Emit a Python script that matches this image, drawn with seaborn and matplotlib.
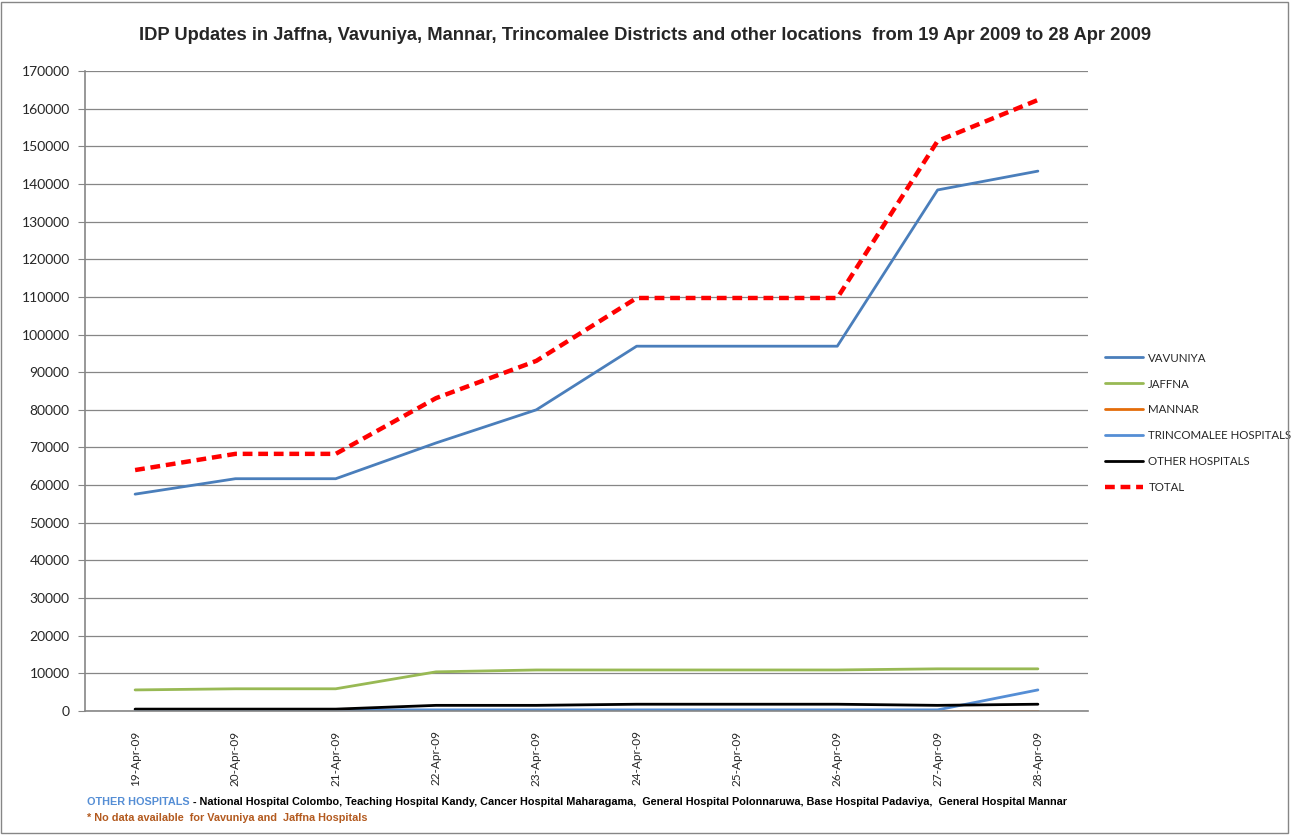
import numpy as np
import pandas as pd
import matplotlib
matplotlib.use("Agg")
import matplotlib.pyplot as plt
import seaborn as sns

# data
dates = ["19-Apr-09", "20-Apr-09", "21-Apr-09", "22-Apr-09", "23-Apr-09",
         "24-Apr-09", "25-Apr-09", "26-Apr-09", "27-Apr-09", "28-Apr-09"]
vavuniya = [57600, 61700, 61700, 71200, 80000, 96900, 96900, 96900, 138400, 143400]
jaffna = [5600, 5900, 5900, 10400, 10900, 10900, 10900, 10900, 11200, 11200]
mannar = [0, 0, 0, 0, 0, 0, 0, 0, 0, 0]
trincomalee = [300, 300, 300, 300, 300, 300, 300, 300, 300, 5600]
other_hosp = [500, 500, 500, 1500, 1500, 1800, 1800, 1800, 1500, 1800]
total = [64000, 68300, 68300, 83100, 93000, 109700, 109700, 109700, 151400, 162300]

series = {
    "VAVUNIYA": vavuniya,
    "JAFFNA": jaffna,
    "MANNAR": mannar,
    "TRINCOMALEE HOSPITALS": trincomalee,
    "OTHER HOSPITALS": other_hosp,
    "TOTAL": total,
}
colors = {
    "VAVUNIYA": "#4A7EBB",
    "JAFFNA": "#98B954",
    "MANNAR": "#E46C0A",
    "TRINCOMALEE HOSPITALS": "#558ED5",
    "OTHER HOSPITALS": "#000000",
    "TOTAL": "#FF0000",
}

rows = []
for name, vals in series.items():
    for i, v in enumerate(vals):
        rows.append({"pos": i, "date": dates[i], "value": v, "series": name})
df = pd.DataFrame(rows)

sns.set_style("white")
plt.rcParams["font.family"] = ["Lato", "DejaVu Sans"]

fig = plt.figure(figsize=(12.91, 8.35), dpi=100)
ax = fig.add_axes([0.0658, 0.1485, 0.777, 0.7665])

for name in series:
    sub = df[df["series"] == name]
    if name == "TOTAL":
        sns.lineplot(data=sub, x="pos", y="value", ax=ax, color=colors[name],
                     lw=3.2, linestyle=(0, (2.2, 1.3)), label=name)
    else:
        sns.lineplot(data=sub, x="pos", y="value", ax=ax, color=colors[name],
                     lw=2.0, label=name)

ax.set_xlim(-0.5, len(dates) - 0.5)
ax.set_ylim(0, 170000)
ax.set_yticks(np.arange(0, 170001, 10000))
ax.set_yticklabels([str(v) for v in range(0, 170001, 10000)], fontsize=10)
ax.set_xticks(range(len(dates)))
ax.set_xticklabels(dates, rotation=90, fontsize=8.5)
ax.set_xticks(np.arange(-0.5, len(dates)), minor=True)
ax.tick_params(axis="x", which="major", length=0, pad=14)
ax.tick_params(axis="x", which="minor", length=5, color="#868686", direction="out")
ax.tick_params(axis="y", length=5, color="#868686", direction="out", left=True, pad=6)
ax.set_xlabel("")
ax.set_ylabel("")

ax.grid(axis="y", color="#868686", lw=0.9)
ax.set_axisbelow(True)
for s in ["top", "right"]:
    ax.spines[s].set_visible(False)
for s in ["left", "bottom"]:
    ax.spines[s].set_color("#868686")
    ax.spines[s].set_linewidth(1.2)

leg = ax.legend(loc="center left", bbox_to_anchor=(1.017, 0.45), frameon=False,
                fontsize=8.3, handlelength=3.3, labelspacing=1.3, handletextpad=0.45,
                borderaxespad=0, borderpad=0)

bold_font = ["Liberation Sans", "DejaVu Sans"]
fig.text(0.5, 0.958, "IDP Updates in Jaffna, Vavuniya, Mannar, Trincomalee Districts and other locations  from 19 Apr 2009 to 28 Apr 2009",
         ha="center", va="center", fontsize=13.2, fontweight="bold", family=bold_font)

# footnote: coloured prefix followed by the black list
t1 = fig.text(0.0675, 0.040, "OTHER HOSPITALS", color="#558ED5", fontsize=7.8,
              fontweight="bold", va="center", family=bold_font)
fig.canvas.draw()
bb = t1.get_window_extent()
fig.text(bb.x1 / fig.bbox.width, 0.040,
         " - National Hospital Colombo, Teaching Hospital Kandy, Cancer Hospital Maharagama,  General Hospital Polonnaruwa, Base Hospital Padaviya,  General Hospital Mannar",
         color="black", fontsize=7.8, fontweight="bold", va="center", family=bold_font)
fig.text(0.0675, 0.020, "* No data available  for Vavuniya and  Jaffna Hospitals",
         color="#B35A1F", fontsize=7.8, fontweight="bold", va="center", family=bold_font)

fig.patches.append(plt.Rectangle((0.001, 0.002), 0.997, 0.996, transform=fig.transFigure,
                                 fill=False, edgecolor="#868686", lw=1))

fig.savefig("out.png", dpi=100)
